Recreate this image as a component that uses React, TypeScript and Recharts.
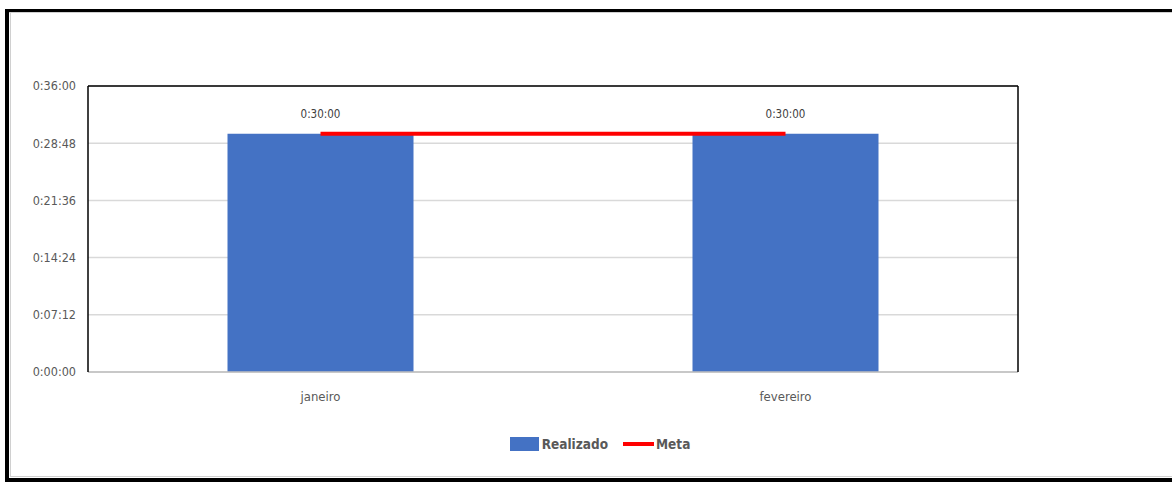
import React from "react";
import {
  BarChart,
  Bar,
  Line,
  XAxis,
  YAxis,
  CartesianGrid,
  Legend,
  LabelList,
  ReferenceLine
} from "recharts";

// dados (segundos)
const months = ["janeiro", "fevereiro"];
const realizado = [1800, 1800];
const meta = [1800, 1800];
const yTicks = [0, 432, 864, 1296, 1728, 2160];

const data = months.map((m, i) => ({ mes: m, realizado: realizado[i], meta: meta[i] }));

const pad = (n: number) => String(n).padStart(2, "0");
const fmtTime = (s: any) => {
  const v = Number(s);
  return `${Math.floor(v / 3600)}:${pad(Math.floor((v % 3600) / 60))}:${pad(v % 60)}`;
};

const FONT = "'DejaVu Sans Condensed', 'Liberation Sans', sans-serif";

const renderLegend = () => (
  <div
    style={{
      display: "flex",
      justifyContent: "center",
      alignItems: "center",
      fontFamily: FONT,
      fontWeight: "bold",
      fontSize: 13.5,
      color: "#595959"
    }}
  >
    <span style={{ display: "inline-block", width: 29, height: 14, background: "#4472C4", marginRight: 3 }} />
    <span>Realizado</span>
    <span style={{ display: "inline-block", width: 31, height: 4, background: "#FF0000", marginLeft: 15, marginRight: 2 }} />
    <span>Meta</span>
  </div>
);

const App: React.FC = () => {
  return (
    <div style={{ position: "absolute", left: 0, top: 0, width: 1172, height: 486, overflow: "hidden", fontFamily: FONT, background: "#fff" }}>
      {/* moldura externa */}
      <div style={{ position: "absolute", left: 5, top: 9, width: 1167, height: 3, background: "#000" }} />
      <div style={{ position: "absolute", left: 5, top: 9, width: 4, height: 473, background: "#000" }} />
      <div style={{ position: "absolute", left: 5, top: 478, width: 1167, height: 4, background: "#000" }} />
      <div style={{ position: "absolute", left: 9, top: 12, width: 1163, height: 1, background: "#d0d0d0" }} />
      <div style={{ position: "absolute", left: 10, top: 12, width: 1, height: 465, background: "#d0d0d0" }} />
      <div style={{ position: "absolute", left: 10, top: 476, width: 1162, height: 1, background: "#d0d0d0" }} />
      <div style={{ position: "absolute", left: 0, top: 0 }}>
        <BarChart
          width={1172}
          height={486}
          data={data}
          barCategoryGap="30%"
          margin={{ top: 86, right: 153, left: 8, bottom: 84 }}
        >
          <CartesianGrid stroke="#d9d9d9" strokeWidth={1.5} vertical={false} />
          <XAxis
            dataKey="mes"
            height={30}
            tickSize={0}
            tickMargin={20}
            axisLine={{ stroke: "#bfbfbf", strokeWidth: 1.5 }}
            tick={{ fill: "#595959", fontSize: 13 }}
          />
          <YAxis
            width={80}
            domain={[0, 2160]}
            ticks={yTicks}
            tickFormatter={fmtTime}
            tickSize={0}
            tickMargin={12}
            axisLine={{ stroke: "#000", strokeWidth: 1.5 }}
            tick={{ fill: "#595959", fontSize: 12.5 }}
          />
          <YAxis
            yAxisId="r"
            orientation="right"
            width={1}
            domain={[0, 2160]}
            tick={false}
            tickLine={false}
            axisLine={{ stroke: "#000", strokeWidth: 1.5 }}
          />
          <ReferenceLine y={2160} stroke="#000" strokeWidth={1.5} />
          <Bar dataKey="realizado" name="Realizado" fill="#4472C4" isAnimationActive={false}>
            <LabelList dataKey="realizado" position="top" offset={16} formatter={fmtTime} fill="#404040" fontSize={11.5} />
          </Bar>
          <Line
            dataKey="meta"
            name="Meta"
            stroke="#FF0000"
            strokeWidth={4}
            dot={false}
            activeDot={false}
            isAnimationActive={false}
          />
          <Legend
            layout="horizontal"
            verticalAlign="middle"
            align="center"
            content={renderLegend}
            wrapperStyle={{ top: 436, left: 28, width: 1144 }}
          />
        </BarChart>
      </div>
    </div>
  );
};

export default App;
